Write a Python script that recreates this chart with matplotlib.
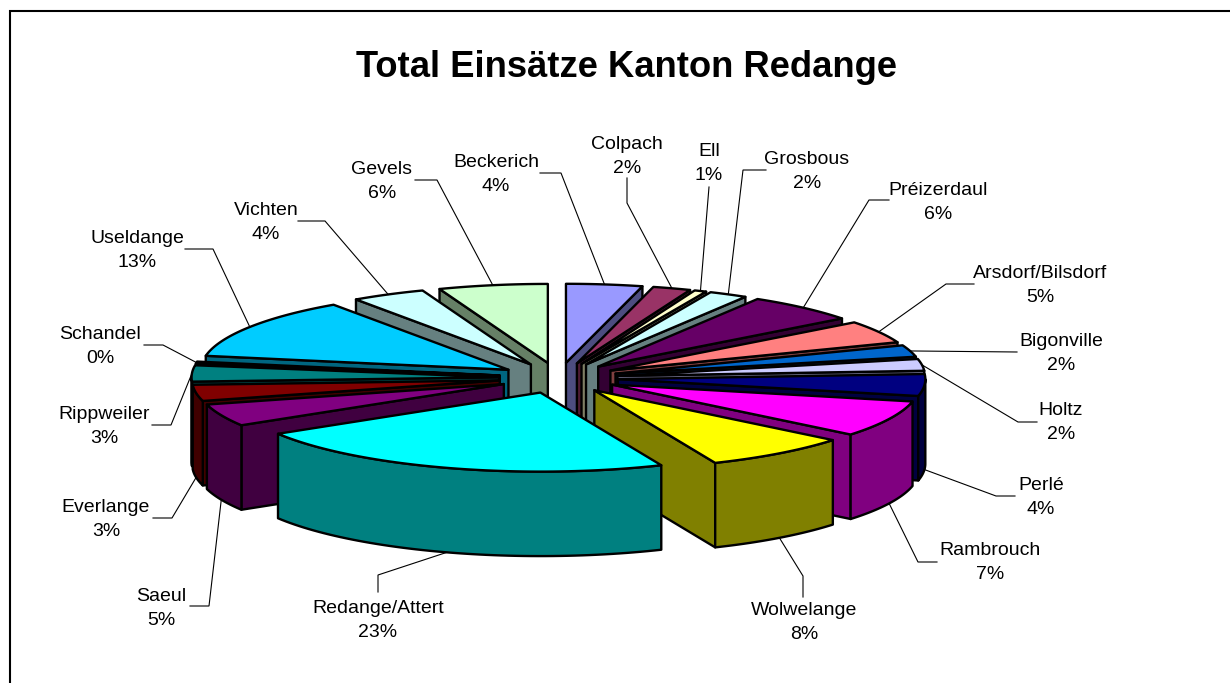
import numpy as np
import matplotlib
matplotlib.use("Agg")
import matplotlib.pyplot as plt
from matplotlib.colors import to_rgb
from matplotlib.patches import Polygon

plt.rcParams['font.family'] = ['Liberation Sans', 'DejaVu Sans']

# Data, clockwise from 12 o'clock (percent)
names = ["Beckerich", "Colpach", "Ell", "Grosbous", "Préizerdaul", "Arsdorf/Bilsdorf",
         "Bigonville", "Holtz", "Perlé", "Rambrouch", "Wolwelange", "Redange/Attert",
         "Saeul", "Everlange", "Rippweiler", "Schandel", "Useldange", "Vichten", "Gevels"]
values = [4.0, 2.0, 0.64, 2.03, 5.9, 4.6, 2.4, 2.4, 4.45, 7.45, 7.7, 22.7,
          4.55, 3.3, 3.3, 0.4, 12.55, 3.9, 5.73]
colors = ["#9999FF", "#993366", "#FFFFCC", "#CCFFFF", "#660066", "#FF8080", "#0066CC",
          "#CCCCFF", "#000080", "#FF00FF", "#FFFF00", "#00FFFF", "#800080", "#800000",
          "#008080", "#0000FF", "#00CCFF", "#CCFFFF", "#CCFFCC"]

# Label centres and the fixed part of each leader line, in pixels
label_pos = [(496, 173), (627, 155), (709, 162), (807, 170), (938, 201), (1040, 284),
             (1061, 352), (1061, 421), (1041, 496), (990, 561), (804, 621), (378, 619),
             (161, 607), (106, 518), (104, 425), (100, 345), (137, 249), (266, 221), (382, 180)]
leaders = [[(540, 173), (561, 173)], [(627, 178), (627, 203)], [(709, 187)],
           [(766, 170), (743, 170)], [(889, 200), (869, 200)], [(974, 284), (946, 284)],
           [(1017, 352)], [(1037, 422), (1018, 422)], [(1015, 496), (996, 496)],
           [(937, 562), (918, 562)], [(803, 597), (803, 576)], [(378, 592), (378, 575)],
           [(190, 606), (209, 606)], [(153, 518), (172, 518)], [(152, 425), (171, 425)],
           [(144, 345), (163, 345)], [(185, 249), (213, 249)], [(298, 221), (325, 221)],
           [(415, 180), (437, 180)]]

# Pie geometry in pixels
cx, cy = 558.5, 378
radius = 307.5
tilt = 0.257
explode = 59.5
depth = 84.5
line_w = 1.7


def rim(angle, r, ox=0, oy=0, drop=0):
    x = cx + ox + r * np.sin(angle)
    y = cy + oy - r * tilt * np.cos(angle) + drop
    return np.column_stack([x, y])


def draw_slice(ax, a0, a1, color):
    mid = (a0 + a1) / 2
    ox = explode * np.sin(mid)
    oy = -explode * tilt * np.cos(mid)
    apex = np.array([[cx + ox, cy + oy]])
    low = np.array([[0, depth]])
    dark = tuple(c * 0.5 for c in to_rgb(color))

    def face(pts, fc):
        ax.add_patch(Polygon(pts, closed=True, fc=fc, ec="black", lw=line_w, joinstyle="round"))

    # Radial walls
    if np.sin(a0) < 0:
        p = rim(np.array([a0]), radius, ox, oy)
        face(np.vstack([apex, p, p + low, apex + low]), dark)
    if np.sin(a1) > 0:
        p = rim(np.array([a1]), radius, ox, oy)
        face(np.vstack([apex, p, p + low, apex + low]), dark)

    # Outer wall, only the part that faces the viewer
    lo, hi = max(a0, np.pi / 2), min(a1, 3 * np.pi / 2)
    if hi > lo:
        t = np.linspace(lo, hi, 60)
        arc = rim(t, radius, ox, oy)
        face(np.vstack([arc, arc[::-1] + low]), dark)

    t = np.linspace(a0, a1, 60)
    face(np.vstack([apex, rim(t, radius, ox, oy)]), color)


fig = plt.figure(figsize=(12.3, 6.83), dpi=100)
ax = fig.add_axes([0, 0, 1, 1])
ax.set_xlim(0, 1230)
ax.set_ylim(683, 0)
ax.axis("off")

# Chart frame: only top and left are inside the picture
ax.plot([10, 10, 1230], [683, 11, 11], color="black", lw=1.5, solid_joinstyle="miter")

ax.text(626, 67.5, "Total Einsätze Kanton Redange", fontsize=26.2, fontweight="bold",
        ha="center", va="center")

edges = np.cumsum([0] + values) / sum(values) * 2 * np.pi
mids = (edges[:-1] + edges[1:]) / 2

# Leaders end on the rim of their slice (lower rim for the front half)
for i, pts in enumerate(leaders):
    ox = explode * np.sin(mids[i])
    oy = -explode * tilt * np.cos(mids[i])
    drop = depth if np.cos(mids[i]) < -0.05 else 0
    end = rim(np.array([mids[i]]), radius, ox, oy, drop)[0]
    xs = [p[0] for p in pts] + [end[0]]
    ys = [p[1] for p in pts] + [end[1]]
    ax.plot(xs, ys, color="black", lw=0.8, solid_joinstyle="miter")

# Back slices first
for i in np.argsort(-np.cos(mids)):
    draw_slice(ax, edges[i], edges[i + 1], colors[i])

for name, val, (x, y) in zip(names, values, label_pos):
    ax.text(x, y + 1.5, f"{name}\n{round(val)}%", fontsize=14, ha="center", va="center",
            linespacing=1.5)

fig.savefig("out.png", dpi=100)
